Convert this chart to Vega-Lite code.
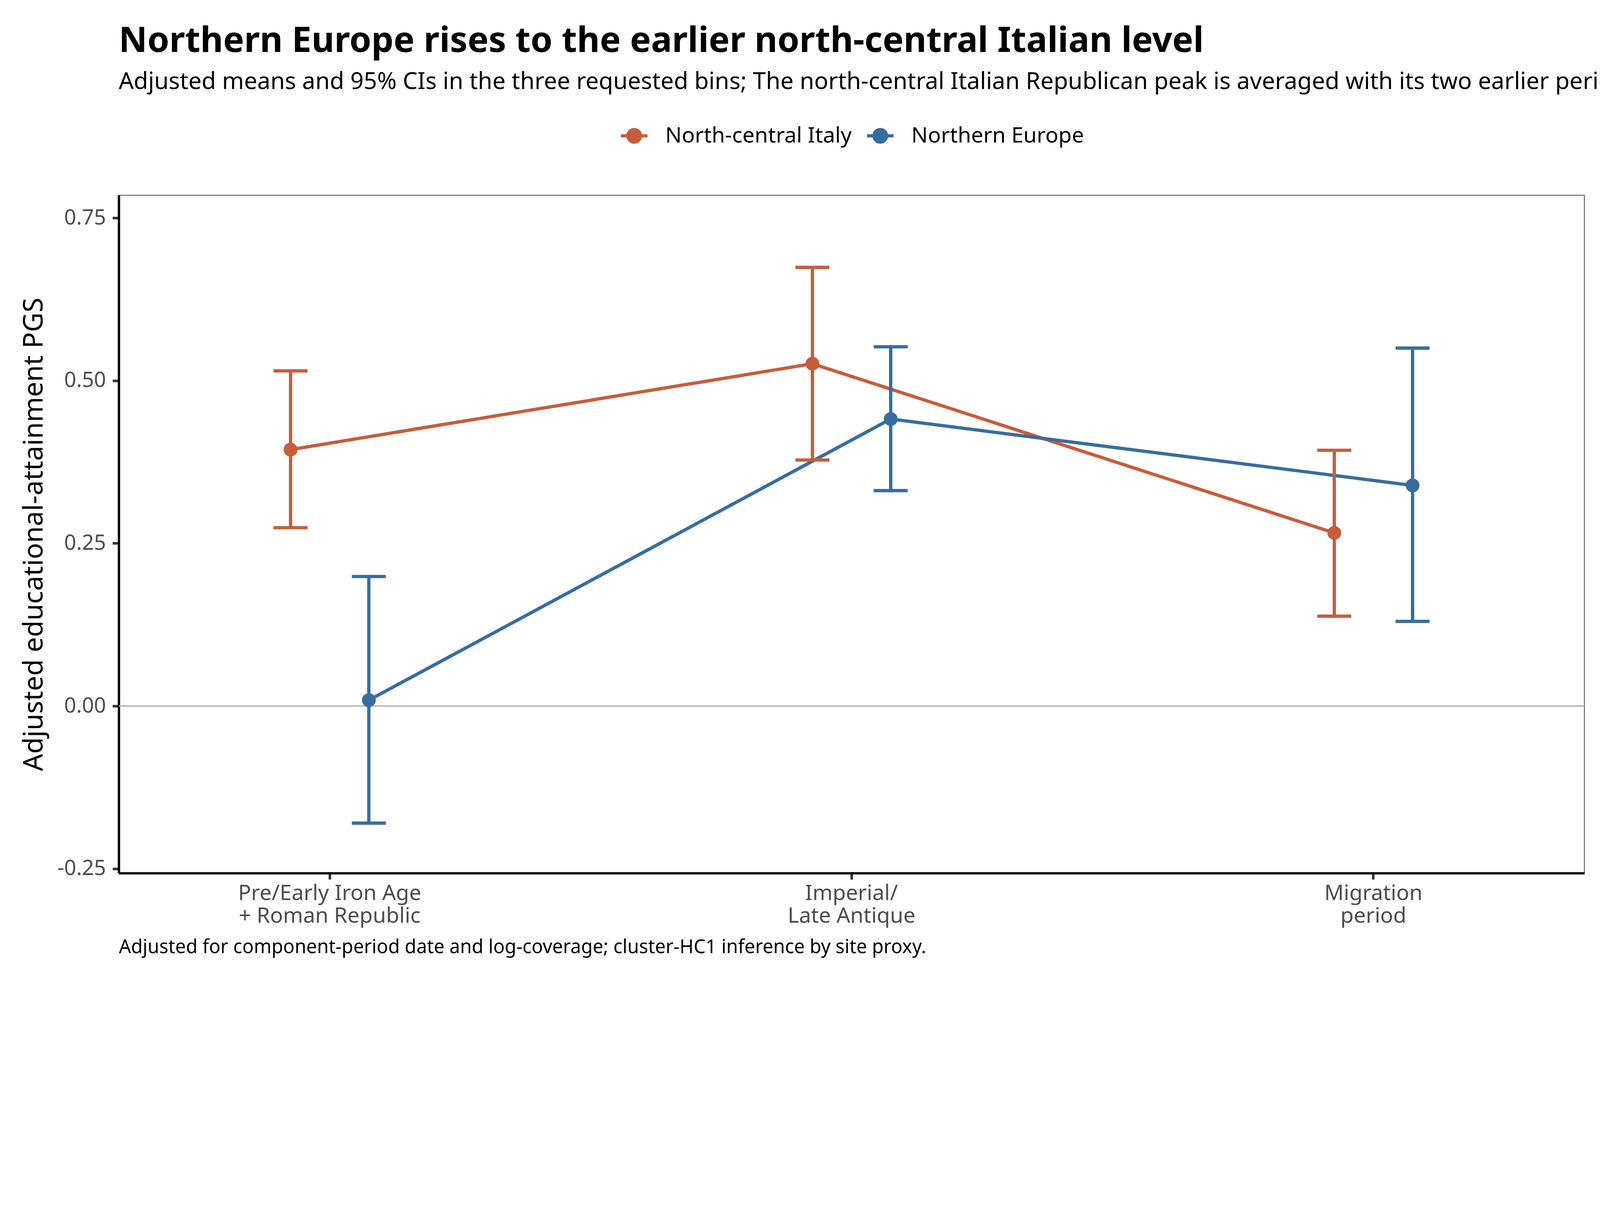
{
  "$schema": "https://vega.github.io/schema/vega-lite/v6.json",
  "width": 3752,
  "height": 1736,
  "autosize": {"type": "none"},
  "padding": {"left": 304, "top": 500, "right": 84, "bottom": 284},
  "background": "white",
  "title": {
    "text": "Northern Europe rises to the earlier north-central Italian level",
    "subtitle": "Adjusted means and 95% CIs in the three requested bins; The north-central Italian Republican peak is averaged with its two earlier periods."
  },
  "data": {
    "values": [
      {"period": "Pre/Early Iron Age\n+ Roman Republic", "region": "North-central Italy", "mean": 0.394, "lower": 0.274, "upper": 0.515},
      {"period": "Imperial/\nLate Antique", "region": "North-central Italy", "mean": 0.526, "lower": 0.378, "upper": 0.674},
      {"period": "Migration\nperiod", "region": "North-central Italy", "mean": 0.266, "lower": 0.138, "upper": 0.393},
      {"period": "Pre/Early Iron Age\n+ Roman Republic", "region": "Northern Europe", "mean": 0.009, "lower": -0.180, "upper": 0.199},
      {"period": "Imperial/\nLate Antique", "region": "Northern Europe", "mean": 0.441, "lower": 0.331, "upper": 0.552},
      {"period": "Migration\nperiod", "region": "Northern Europe", "mean": 0.339, "lower": 0.130, "upper": 0.550}
    ]
  },
  "layer": [
    {
      "mark": {"type": "rule", "color": "#B3B3B3", "strokeWidth": 2.4},
      "encoding": {"y": {"datum": 0, "type": "quantitative"}}
    },
    {
      "mark": {"type": "line", "strokeWidth": 8.4},
      "encoding": {
        "x": {"field": "period", "type": "nominal", "sort": null, "title": "Adjusted for component-period date and log-coverage; cluster-HC1 inference by site proxy.", "scale": {"paddingInner": 0.4, "paddingOuter": 0.1042}, "axis": {"labelExpr": "split(datum.value, '\\n')", "labelAngle": 0}},
        "xOffset": {"field": "region", "type": "nominal", "scale": {"paddingInner": 0, "paddingOuter": 1.298}},
        "y": {"field": "mean", "type": "quantitative", "title": "Adjusted educational-attainment PGS", "scale": {"domain": [-0.2568, 0.7849], "nice": false, "zero": false}, "axis": {"values": [-0.25, 0, 0.25, 0.5, 0.75], "labelExpr": "replace(format(datum.value, '.2f'), '−', '-')"}},
        "color": {
          "field": "region", "type": "nominal",
          "scale": {"domain": ["North-central Italy", "Northern Europe"], "range": ["#C65D3B", "#376D9E"]},
          "legend": {
            "title": null,
            "orient": "top",
            "direction": "horizontal",
            "encode": {"symbols": {"update": {"fill": {"scale": "color", "field": "value"}, "stroke": {"scale": "color", "field": "value"}}}}
          }
        }
      }
    },
    {
      "mark": {"type": "rule", "strokeWidth": 8.4},
      "encoding": {
        "x": {"field": "period", "type": "nominal", "sort": null, "title": "Adjusted for component-period date and log-coverage; cluster-HC1 inference by site proxy."},
        "xOffset": {"field": "region", "type": "nominal"},
        "y": {"field": "lower", "type": "quantitative", "title": "Adjusted educational-attainment PGS"},
        "y2": {"field": "upper"},
        "color": {"field": "region", "type": "nominal"}
      }
    },
    {
      "mark": {"type": "tick", "orient": "horizontal", "size": 87, "thickness": 8.4, "opacity": 1},
      "encoding": {
        "x": {"field": "period", "type": "nominal", "sort": null, "title": "Adjusted for component-period date and log-coverage; cluster-HC1 inference by site proxy."},
        "xOffset": {"field": "region", "type": "nominal"},
        "y": {"field": "upper", "type": "quantitative", "title": "Adjusted educational-attainment PGS"},
        "color": {"field": "region", "type": "nominal"}
      }
    },
    {
      "mark": {"type": "tick", "orient": "horizontal", "size": 87, "thickness": 8.4, "opacity": 1},
      "encoding": {
        "x": {"field": "period", "type": "nominal", "sort": null, "title": "Adjusted for component-period date and log-coverage; cluster-HC1 inference by site proxy."},
        "xOffset": {"field": "region", "type": "nominal"},
        "y": {"field": "lower", "type": "quantitative", "title": "Adjusted educational-attainment PGS"},
        "color": {"field": "region", "type": "nominal"}
      }
    },
    {
      "mark": {"type": "point", "filled": true, "size": 1257, "opacity": 1},
      "encoding": {
        "x": {"field": "period", "type": "nominal", "sort": null, "title": "Adjusted for component-period date and log-coverage; cluster-HC1 inference by site proxy."},
        "xOffset": {"field": "region", "type": "nominal"},
        "y": {"field": "mean", "type": "quantitative", "title": "Adjusted educational-attainment PGS"},
        "color": {"field": "region", "type": "nominal"}
      }
    }
  ],
  "config": {
    "font": "Noto Sans",
    "view": {"stroke": "#4D4D4D", "strokeWidth": 2},
    "title": {"anchor": "start", "frame": "group", "fontSize": 90, "fontWeight": "bold", "color": "#000000", "subtitleFontSize": 60, "subtitleColor": "#000000", "subtitlePadding": 29, "offset": 68, "font": "Noto Sans", "subtitleFont": "Noto Sans"},
    "axis": {"grid": false, "domainColor": "#000000", "domainWidth": 6, "tickColor": "#333333", "tickWidth": 6.5, "tickSize": 16, "labelColor": "#4D4D4D", "labelFontSize": 54, "labelLimit": 0, "labelFont": "Noto Sans", "titleFont": "Noto Sans", "titleFontWeight": "normal", "titleColor": "#000000", "titleLimit": 0},
    "axisY": {"labelPadding": 17, "titleFontSize": 69, "titlePadding": 24},
    "axisX": {"labelPadding": 9, "labelLineHeight": 58, "labelFontSize": 55, "titleFontSize": 48.5, "titleAnchor": "start", "titleAlign": "left", "titlePadding": 29},
    "legend": {
      "labelFontSize": 55.5,
      "labelLimit": 0,
      "labelColor": "#000000",
      "labelFont": "Noto Sans",
      "symbolType": "M-1,0L1,0M-0.47,0A0.47,0.47,0,1,0,0.47,0A0.47,0.47,0,1,0,-0.47,0Z",
      "symbolSize": 4624,
      "symbolStrokeWidth": 8.4,
      "labelOffset": 41,
      "columnPadding": 21,
      "offset": 119,
      "padding": 0,
      "layout": {"top": {"anchor": "middle"}}
    }
  }
}
